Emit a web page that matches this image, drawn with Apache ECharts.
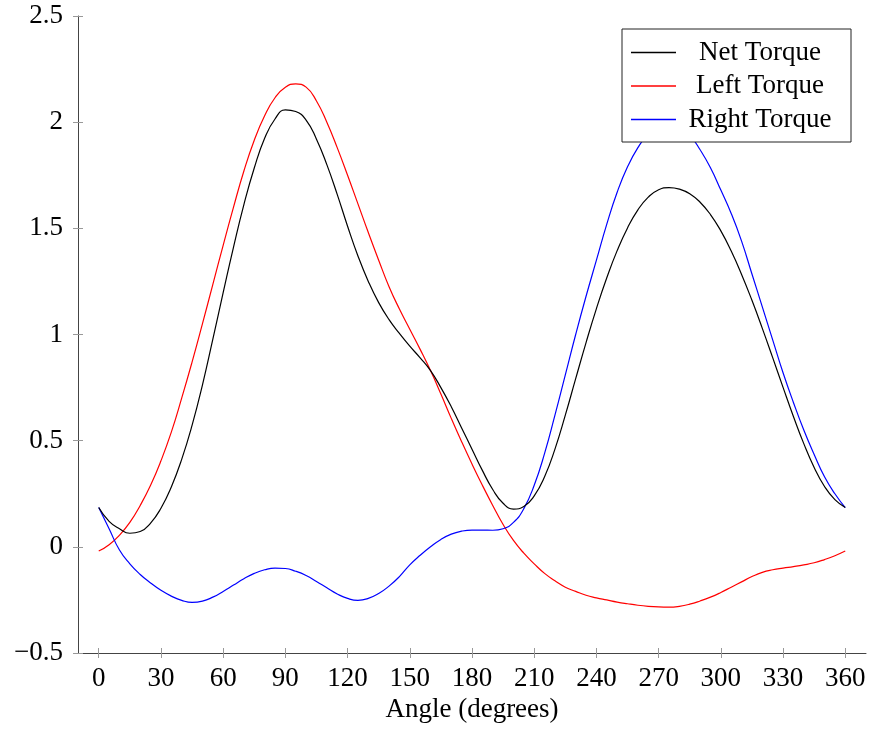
<!DOCTYPE html>
<html>
<head>
<meta charset="utf-8">
<script src="https://cdn.jsdelivr.net/npm/echarts@6/dist/echarts.min.js"></script>
<style>
html,body{margin:0;padding:0;background:#fff;}
#c{width:869px;height:733px;}
</style>
</head>
<body>
<div id="c"></div>
<script>
// angles 0..360 every 5 degrees
const angles = [0,5,10,15,20,25,30,35,40,45,50,55,60,65,70,75,80,85,90,95,100,105,110,115,120,125,130,135,140,145,150,155,160,165,170,175,180,185,190,195,200,205,210,215,220,225,230,235,240,245,250,255,260,265,270,275,280,285,290,295,300,305,310,315,320,325,330,335,340,345,350,355,360];
const netTorque = [0.185,0.12,0.085,0.064,0.072,0.112,0.182,0.282,0.412,0.572,0.762,0.977,1.197,1.412,1.612,1.784,1.924,2.015,2.058,2.05,2.01,1.92,1.80,1.66,1.51,1.37,1.25,1.15,1.07,1.005,0.945,0.89,0.83,0.75,0.66,0.56,0.46,0.36,0.27,0.205,0.178,0.19,0.24,0.33,0.46,0.62,0.792,0.962,1.122,1.267,1.395,1.502,1.587,1.647,1.682,1.692,1.685,1.663,1.623,1.565,1.488,1.393,1.283,1.161,1.029,0.891,0.751,0.614,0.486,0.374,0.284,0.222,0.185];
const leftTorque = [-0.02,0.01,0.055,0.115,0.195,0.29,0.405,0.54,0.70,0.87,1.05,1.235,1.42,1.60,1.77,1.915,2.03,2.115,2.165,2.18,2.165,2.10,2.00,1.88,1.75,1.615,1.48,1.35,1.225,1.12,1.025,0.93,0.83,0.72,0.605,0.495,0.39,0.29,0.195,0.105,0.03,-0.03,-0.08,-0.125,-0.16,-0.19,-0.21,-0.228,-0.24,-0.25,-0.26,-0.268,-0.275,-0.28,-0.283,-0.284,-0.28,-0.27,-0.255,-0.237,-0.215,-0.19,-0.165,-0.14,-0.12,-0.108,-0.10,-0.093,-0.085,-0.075,-0.06,-0.042,-0.02];
const rightTorque = [0.185,0.085,-0.015,-0.08,-0.13,-0.17,-0.205,-0.232,-0.252,-0.262,-0.256,-0.237,-0.21,-0.18,-0.15,-0.125,-0.108,-0.10,-0.102,-0.115,-0.135,-0.163,-0.193,-0.222,-0.243,-0.252,-0.243,-0.22,-0.185,-0.14,-0.085,-0.04,0.0,0.035,0.06,0.074,0.079,0.079,0.078,0.085,0.115,0.18,0.29,0.44,0.62,0.81,1.0,1.18,1.35,1.52,1.67,1.79,1.88,1.945,1.983,1.995,1.983,1.94,1.87,1.785,1.68,1.57,1.44,1.285,1.13,0.975,0.82,0.68,0.55,0.435,0.33,0.25,0.185];
const xTicks = [0,30,60,90,120,150,180,210,240,270,300,330,360];
const seriesNames = ['Net Torque','Left Torque','Right Torque'];
const seriesColors = ['#000000','#ff0000','#0000ff'];

const FONT = 'Liberation Serif';
const FS = 27;
const pairs = arr => angles.map((a,i)=>[a,arr[i]]);
const chart = echarts.init(document.getElementById('c'));
const tickStyle = {show:true,length:5,lineStyle:{color:'#999',width:1}};
const xBase = {type:'value',min:-10,max:370,gridIndex:0,splitLine:{show:false}};
const yBase = {type:'value',min:-0.5,max:2.5,interval:0.5,gridIndex:0,splitLine:{show:false}};
const mkSeries = (i,arr,z)=>({name:seriesNames[i],type:'line',data:pairs(arr),smooth:0.5,
  symbol:'none',showSymbol:false,lineStyle:{color:seriesColors[i],width:1.2},itemStyle:{color:seriesColors[i]},z:z});
chart.setOption({
  animation:false,
  backgroundColor:'#fff',
  grid:{left:78,right:3,top:16,bottom:80,containLabel:false},
  xAxis:[
    Object.assign({},xBase,{
      position:'bottom',
      name:'Angle (degrees)',nameLocation:'middle',nameGap:43,
      nameTextStyle:{fontFamily:FONT,fontSize:FS,color:'#000'},
      axisLine:{show:true,onZero:false,lineStyle:{color:'#444',width:1}},
      axisTick:Object.assign({},tickStyle,{customValues:xTicks}),
      axisLabel:{customValues:xTicks,fontFamily:FONT,fontSize:FS,color:'#000',margin:12}
    }),
    Object.assign({},xBase,{
      position:'bottom',
      axisLine:{show:false,onZero:false},
      axisTick:Object.assign({},tickStyle,{inside:true,customValues:xTicks}),
      axisLabel:{show:false}
    })
  ],
  yAxis:[
    Object.assign({},yBase,{
      position:'left',
      axisLine:{show:true,onZero:false,lineStyle:{color:'#444',width:1}},
      axisTick:tickStyle,
      axisLabel:{fontFamily:FONT,fontSize:FS,color:'#000',margin:15,
        formatter:v=>v<0?'\u2212'+Math.abs(v):String(v)}
    }),
    Object.assign({},yBase,{
      position:'left',
      axisLine:{show:false,onZero:false},
      axisTick:Object.assign({},tickStyle,{inside:true}),
      axisLabel:{show:false}
    })
  ],
  legend:{
    orient:'vertical',left:622,top:29,
    padding:[10,12,9,9],itemGap:6.5,itemWidth:45,itemHeight:1.5,icon:'rect',
    borderColor:'#222',borderWidth:1,backgroundColor:'#fff',borderRadius:0,
    data:seriesNames.map((n,i)=>({name:n,icon:'rect',itemStyle:{color:seriesColors[i]}})),
    formatter:n=>'{c|'+n+'}',
    textStyle:{fontFamily:FONT,fontSize:FS,color:'#000',
      rich:{c:{width:158,align:'center',fontFamily:FONT,fontSize:FS,lineHeight:26}}}
  },
  series:[
    mkSeries(0,netTorque,3),
    mkSeries(1,leftTorque,2),
    mkSeries(2,rightTorque,2)
  ]
});
</script>
</body>
</html>
